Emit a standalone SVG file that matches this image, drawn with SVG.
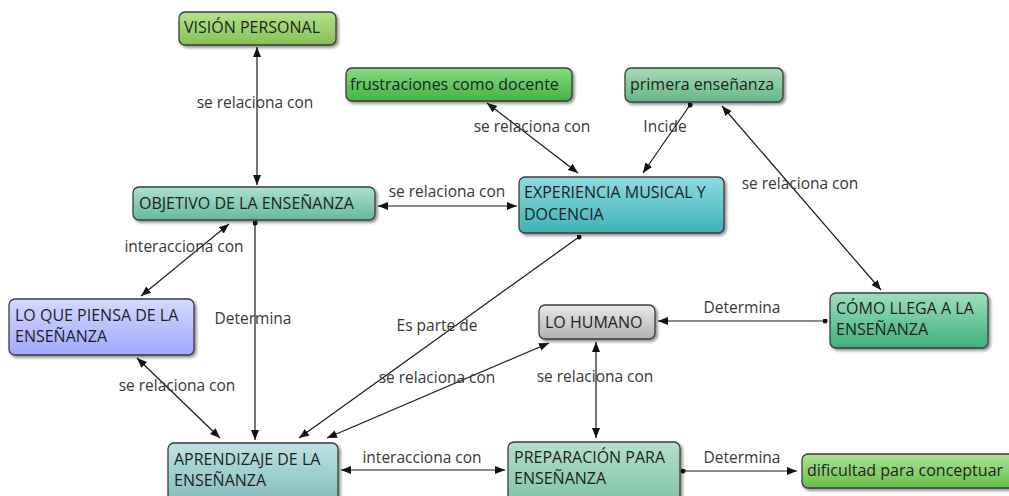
<svg xmlns="http://www.w3.org/2000/svg" width="1009" height="496" viewBox="0 0 1009 496">
<defs>
<filter id="sh" x="-10%" y="-20%" width="130%" height="160%"><feDropShadow dx="2" dy="2" stdDeviation="1.6" flood-color="#000" flood-opacity="0.45"/></filter>
<linearGradient id="gVision" x1="0" y1="0" x2="0" y2="1"><stop offset="0" stop-color="#b6e28c"/><stop offset="1" stop-color="#84c055"/></linearGradient>
<linearGradient id="gFrus" x1="0" y1="0" x2="0" y2="1"><stop offset="0" stop-color="#86da80"/><stop offset="1" stop-color="#44b444"/></linearGradient>
<linearGradient id="gPrim" x1="0" y1="0" x2="0" y2="1"><stop offset="0" stop-color="#a6dcb6"/><stop offset="1" stop-color="#66b685"/></linearGradient>
<linearGradient id="gObj" x1="0" y1="0" x2="0" y2="1"><stop offset="0" stop-color="#ade0cc"/><stop offset="1" stop-color="#66b89e"/></linearGradient>
<linearGradient id="gExp" x1="0" y1="0" x2="0" y2="1"><stop offset="0" stop-color="#90dadf"/><stop offset="1" stop-color="#3db3b8"/></linearGradient>
<linearGradient id="gPiensa" x1="0" y1="0" x2="0" y2="1"><stop offset="0" stop-color="#d6d9ff"/><stop offset="1" stop-color="#a0a8ff"/></linearGradient>
<linearGradient id="gHum" x1="0" y1="0" x2="0" y2="1"><stop offset="0" stop-color="#e8e8e8"/><stop offset="1" stop-color="#b2b2b2"/></linearGradient>
<linearGradient id="gComo" x1="0" y1="0" x2="0" y2="1"><stop offset="0" stop-color="#9edfbd"/><stop offset="1" stop-color="#3daf7d"/></linearGradient>
<linearGradient id="gApr" x1="0" y1="0" x2="0" y2="1"><stop offset="0" stop-color="#c0e2e2"/><stop offset="1" stop-color="#80bcbc"/></linearGradient>
<linearGradient id="gPrep" x1="0" y1="0" x2="0" y2="1"><stop offset="0" stop-color="#b6e0cc"/><stop offset="1" stop-color="#80c2a6"/></linearGradient>
<linearGradient id="gDif" x1="0" y1="0" x2="0" y2="1"><stop offset="0" stop-color="#ace494"/><stop offset="1" stop-color="#66be4c"/></linearGradient>
<marker id="ah" viewBox="0 0 10 10" refX="10" refY="5" markerWidth="10" markerHeight="10" markerUnits="userSpaceOnUse" orient="auto-start-reverse"><path d="M0,1 L10,5 L0,9 Z" fill="#111"/></marker>
<marker id="dot" viewBox="0 0 6 6" refX="3" refY="3" markerWidth="5" markerHeight="5" markerUnits="userSpaceOnUse"><circle cx="3" cy="3" r="3" fill="#111"/></marker>
<style>
.n rect{stroke:#3d3d3d;stroke-width:1.3;filter:url(#sh)}
.n text{font-family:"Open Sans","DejaVu Sans",sans-serif;font-size:16px;fill:#1e1e1e}
.c line{stroke:#1a1a1a;stroke-width:1.2;fill:none}
.c .b{marker-start:url(#ah);marker-end:url(#ah)}
.c .d{marker-start:url(#dot);marker-end:url(#ah)}
.lbl{font-family:"Open Sans","DejaVu Sans",sans-serif;font-size:15.5px;fill:#383838;text-anchor:middle}
</style>
</defs>
<rect width="1009" height="496" fill="#fff"/>
<g id="connectors" class="c">
<line class="b" x1="257" y1="47" x2="257" y2="185"/>
<line class="b" x1="378" y1="206" x2="517" y2="206"/>
<line class="b" x1="487" y1="103" x2="578" y2="173"/>
<line class="d" x1="690" y1="105" x2="643" y2="173"/>
<line class="b" x1="722" y1="106" x2="881" y2="290"/>
<line class="b" x1="229" y1="224" x2="141" y2="296"/>
<line class="d" x1="255" y1="223" x2="255" y2="440"/>
<line class="b" x1="137" y1="358" x2="220" y2="438"/>
<line class="d" x1="579" y1="237" x2="299" y2="438"/>
<line class="b" x1="549" y1="343" x2="327" y2="438"/>
<line class="d" x1="825" y1="321" x2="658" y2="321"/>
<line class="b" x1="596" y1="342" x2="596" y2="438"/>
<line class="b" x1="341" y1="470" x2="505" y2="470"/>
<line class="d" x1="683" y1="471" x2="797" y2="471"/>
<text class="lbl" x="255" y="108">se relaciona con</text>
<text class="lbl" x="447" y="197">se relaciona con</text>
<text class="lbl" x="532" y="132">se relaciona con</text>
<text class="lbl" x="665" y="132">Incide</text>
<text class="lbl" x="800" y="189">se relaciona con</text>
<text class="lbl" x="184" y="252">interacciona con</text>
<text class="lbl" x="253" y="324">Determina</text>
<text class="lbl" x="177" y="391">se relaciona con</text>
<text class="lbl" x="437" y="331">Es parte de</text>
<text class="lbl" x="437" y="383">se relaciona con</text>
<text class="lbl" x="742" y="313">Determina</text>
<text class="lbl" x="595" y="382">se relaciona con</text>
<text class="lbl" x="422" y="463">interacciona con</text>
<text class="lbl" x="742" y="463">Determina</text>
</g>
<g id="vision" class="n"><rect x="179" y="12" width="157" height="33" rx="6" fill="url(#gVision)"/><text x="184" y="33">VISIÓN PERSONAL</text></g>
<g id="frustraciones" class="n"><rect x="346" y="68" width="226" height="33" rx="6" fill="url(#gFrus)"/><text x="350" y="90">frustraciones como docente</text></g>
<g id="primera" class="n"><rect x="625" y="68" width="158" height="34" rx="6" fill="url(#gPrim)"/><text x="630" y="90">primera enseñanza</text></g>
<g id="objetivo" class="n"><rect x="133" y="187" width="242" height="33" rx="6" fill="url(#gObj)"/><text x="139" y="209">OBJETIVO DE LA ENSEÑANZA</text></g>
<g id="experiencia" class="n"><rect x="519" y="177" width="205" height="56" rx="6" fill="url(#gExp)"/><text x="524" y="198">EXPERIENCIA MUSICAL Y</text><text x="524" y="220">DOCENCIA</text></g>
<g id="piensa" class="n"><rect x="9" y="299" width="185" height="56" rx="6" fill="url(#gPiensa)"/><text x="15" y="321">LO QUE PIENSA DE LA</text><text x="15" y="342">ENSEÑANZA</text></g>
<g id="humano" class="n"><rect x="539" y="305" width="116" height="34" rx="6" fill="url(#gHum)"/><text x="545" y="328">LO HUMANO</text></g>
<g id="como" class="n"><rect x="830" y="293" width="158" height="55" rx="6" fill="url(#gComo)"/><text x="836" y="314">CÓMO LLEGA A LA</text><text x="836" y="335">ENSEÑANZA</text></g>
<g id="aprendizaje" class="n"><rect x="168" y="443" width="170" height="60" rx="6" fill="url(#gApr)"/><text x="174" y="465">APRENDIZAJE DE LA</text><text x="174" y="486">ENSEÑANZA</text></g>
<g id="preparacion" class="n"><rect x="508" y="442" width="172" height="60" rx="6" fill="url(#gPrep)"/><text x="514" y="463">PREPARACIÓN PARA</text><text x="514" y="484">ENSEÑANZA</text></g>
<g id="dificultad" class="n"><rect x="802" y="454" width="215" height="34" rx="6" fill="url(#gDif)"/><text x="807" y="476">dificultad para conceptuar</text></g>
</svg>
